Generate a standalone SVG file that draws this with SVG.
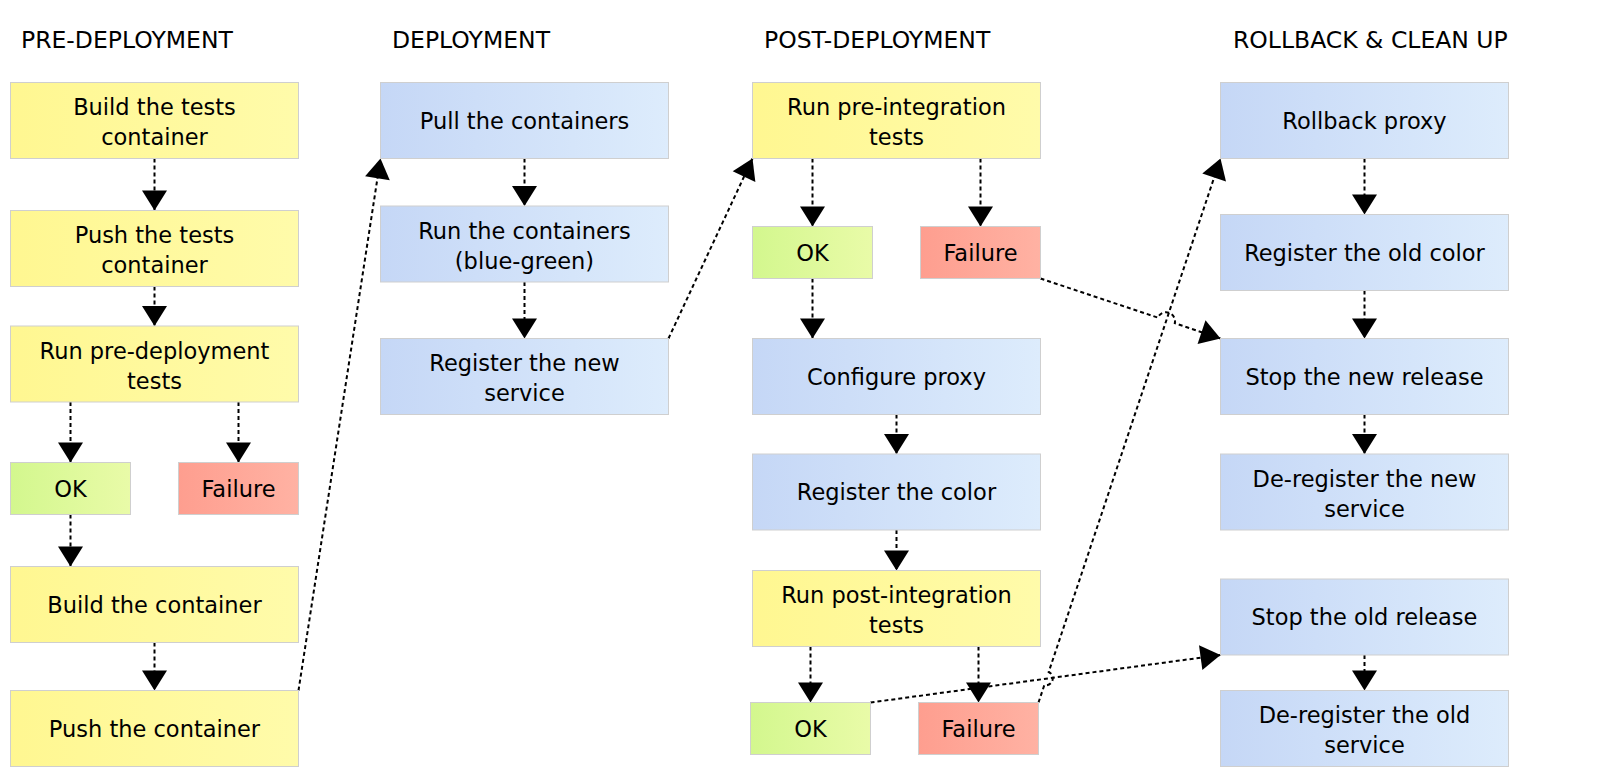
<svg xmlns="http://www.w3.org/2000/svg" width="1602" height="778" viewBox="0 0 1602 778">
<defs>
<linearGradient id="gY" x1="0" y1="0" x2="1" y2="0"><stop offset="0" stop-color="#fff791"/><stop offset="1" stop-color="#fffbaa"/></linearGradient>
<linearGradient id="gB" x1="0" y1="0" x2="1" y2="0"><stop offset="0" stop-color="#c5d7f6"/><stop offset="1" stop-color="#ddecfc"/></linearGradient>
<linearGradient id="gG" x1="0" y1="0" x2="1" y2="0"><stop offset="0" stop-color="#d3f78e"/><stop offset="1" stop-color="#e9fba8"/></linearGradient>
<linearGradient id="gR" x1="0" y1="0" x2="1" y2="0"><stop offset="0" stop-color="#fe9e8f"/><stop offset="1" stop-color="#ffb2a3"/></linearGradient>
<marker id="arr" markerUnits="userSpaceOnUse" markerWidth="20" markerHeight="25" refX="20" refY="12.5" orient="auto" overflow="visible"><path d="M0,0 L20,12.5 L0,25 Z" fill="#000"/></marker>
</defs>
<style>
.n rect{stroke:#cfcfcf;stroke-width:1}
.y{fill:url(#gY)}.b{fill:url(#gB)}.g{fill:url(#gG)}.r{fill:url(#gR)}
text{font-family:"DejaVu Sans","Liberation Sans",sans-serif;fill:#000}
.t{font-size:22.5px;text-anchor:middle}
.h{font-size:23.5px}
#connectors path{fill:none;stroke:#000;stroke-width:2;stroke-dasharray:4 3;marker-end:url(#arr)}
</style>
<rect width="1602" height="778" fill="#fff"/>
<g id="titles">
<text class="h" x="21" y="48">PRE-DEPLOYMENT</text>
<text class="h" x="392" y="48">DEPLOYMENT</text>
<text class="h" x="764" y="48">POST-DEPLOYMENT</text>
<text class="h" x="1233" y="48">ROLLBACK &amp; CLEAN UP</text>
</g>
<g id="connectors">
<path d="M154.5,158.5V210.5"/>
<path d="M154.5,286.5V326"/>
<path d="M70.5,402V462.5"/>
<path d="M238.5,402V462.5"/>
<path d="M70.5,514.5V566.5"/>
<path d="M154.5,642.5V690.5"/>
<path d="M298.5,690.5L380.5,158.5"/>
<path d="M524.5,158.5V206"/>
<path d="M524.5,282V338.5"/>
<path d="M668.5,338.5L752.5,158.5"/>
<path d="M812.5,158.5V226.5"/>
<path d="M980.5,158.5V226.5"/>
<path d="M812.5,278.5V338.5"/>
<path d="M896.5,414.5V454"/>
<path d="M896.5,530V570.5"/>
<path d="M810.5,646.5V702.5"/>
<path d="M978.5,646.5V702.5"/>
<path d="M1040.5,278.5L1157.8,317.6A9,9 0 0 1 1174.8,323.2L1220.5,338.5"/>
<path d="M1038.5,702.5L1044.3,685.2A7,7 0 0 0 1048.7,672L1220.5,158.5"/>
<path d="M870.5,702.5L1220.5,655"/>
<path d="M1364.5,158.5V214.5"/>
<path d="M1364.5,290.5V338.5"/>
<path d="M1364.5,414.5V454"/>
<path d="M1364.5,655V690.5"/>
</g>
<g id="n1" class="n"><rect class="y" x="10.5" y="82.5" width="288" height="76"/><text class="t" x="154.5" y="115">Build the tests</text><text class="t" x="154.5" y="145">container</text></g>
<g id="n2" class="n"><rect class="y" x="10.5" y="210.5" width="288" height="76"/><text class="t" x="154.5" y="243">Push the tests</text><text class="t" x="154.5" y="273">container</text></g>
<g id="n3" class="n"><rect class="y" x="10.5" y="326" width="288" height="76"/><text class="t" x="154.5" y="358.5">Run pre-deployment</text><text class="t" x="154.5" y="388.5">tests</text></g>
<g id="ok1" class="n"><rect class="g" x="10.5" y="462.5" width="120" height="52"/><text class="t" x="70.5" y="497">OK</text></g>
<g id="fail1" class="n"><rect class="r" x="178.5" y="462.5" width="120" height="52"/><text class="t" x="238.5" y="497">Failure</text></g>
<g id="n4" class="n"><rect class="y" x="10.5" y="566.5" width="288" height="76"/><text class="t" x="154.5" y="612.5">Build the container</text></g>
<g id="n5" class="n"><rect class="y" x="10.5" y="690.5" width="288" height="76"/><text class="t" x="154.5" y="736.5">Push the container</text></g>
<g id="d1" class="n"><rect class="b" x="380.5" y="82.5" width="288" height="76"/><text class="t" x="524.5" y="128.5">Pull the containers</text></g>
<g id="d2" class="n"><rect class="b" x="380.5" y="206" width="288" height="76"/><text class="t" x="524.5" y="238.5">Run the containers</text><text class="t" x="524.5" y="268.5">(blue-green)</text></g>
<g id="d3" class="n"><rect class="b" x="380.5" y="338.5" width="288" height="76"/><text class="t" x="524.5" y="371">Register the new</text><text class="t" x="524.5" y="401">service</text></g>
<g id="p1" class="n"><rect class="y" x="752.5" y="82.5" width="288" height="76"/><text class="t" x="896.5" y="115">Run pre-integration</text><text class="t" x="896.5" y="145">tests</text></g>
<g id="ok2" class="n"><rect class="g" x="752.5" y="226.5" width="120" height="52"/><text class="t" x="812.5" y="261">OK</text></g>
<g id="fail2" class="n"><rect class="r" x="920.5" y="226.5" width="120" height="52"/><text class="t" x="980.5" y="261">Failure</text></g>
<g id="p2" class="n"><rect class="b" x="752.5" y="338.5" width="288" height="76"/><text class="t" x="896.5" y="384.5">Configure proxy</text></g>
<g id="p3" class="n"><rect class="b" x="752.5" y="454" width="288" height="76"/><text class="t" x="896.5" y="500">Register the color</text></g>
<g id="p4" class="n"><rect class="y" x="752.5" y="570.5" width="288" height="76"/><text class="t" x="896.5" y="603">Run post-integration</text><text class="t" x="896.5" y="633">tests</text></g>
<g id="ok3" class="n"><rect class="g" x="750.5" y="702.5" width="120" height="52"/><text class="t" x="810.5" y="737">OK</text></g>
<g id="fail3" class="n"><rect class="r" x="918.5" y="702.5" width="120" height="52"/><text class="t" x="978.5" y="737">Failure</text></g>
<g id="r1" class="n"><rect class="b" x="1220.5" y="82.5" width="288" height="76"/><text class="t" x="1364.5" y="128.5">Rollback proxy</text></g>
<g id="r2" class="n"><rect class="b" x="1220.5" y="214.5" width="288" height="76"/><text class="t" x="1364.5" y="260.5">Register the old color</text></g>
<g id="r3" class="n"><rect class="b" x="1220.5" y="338.5" width="288" height="76"/><text class="t" x="1364.5" y="384.5">Stop the new release</text></g>
<g id="r4" class="n"><rect class="b" x="1220.5" y="454" width="288" height="76"/><text class="t" x="1364.5" y="486.5">De-register the new</text><text class="t" x="1364.5" y="516.5">service</text></g>
<g id="r5" class="n"><rect class="b" x="1220.5" y="579" width="288" height="76"/><text class="t" x="1364.5" y="625">Stop the old release</text></g>
<g id="r6" class="n"><rect class="b" x="1220.5" y="690.5" width="288" height="76"/><text class="t" x="1364.5" y="723">De-register the old</text><text class="t" x="1364.5" y="753">service</text></g>
</svg>
